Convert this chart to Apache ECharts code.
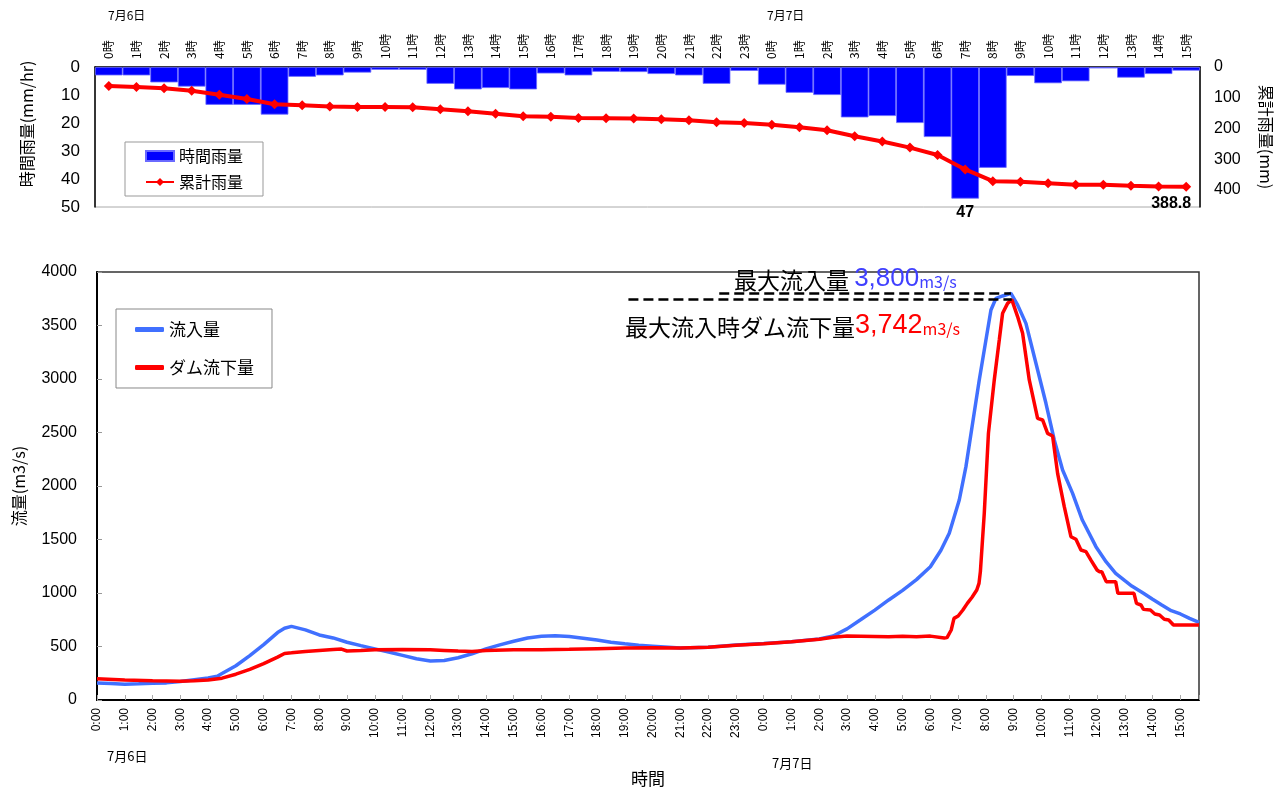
<!DOCTYPE html>
<html><head><meta charset="utf-8">
<script src="https://cdn.jsdelivr.net/npm/echarts@6/dist/echarts.min.js"></script>
<style>html,body{margin:0;padding:0;background:#fff}#c{width:1284px;height:794px}</style>
</head><body><div id="c"></div>
<script>
// ---- data ----
const rainHourLabels = ['0時','1時','2時','3時','4時','5時','6時','7時','8時','9時','10時','11時','12時','13時','14時','15時','16時','17時','18時','19時','20時','21時','22時','23時',
  '0時','1時','2時','3時','4時','5時','6時','7時','8時','9時','10時','11時','12時','13時','14時','15時'];
const hourlyRain = [3,3,5.5,7,13.5,13.5,17,3.5,3,2,1,1,6,8,7.5,8,2.3,3,1.7,1.8,2.5,3,6,1.4,
  6.3,9.2,10,18,17.5,20,25,47,36,3.2,5.8,5.1,0.5,3.8,2.5,1.3];
const cumulativeRain = [62,65,69,77,90,104,121,124,128,130,130,131,137,144,152,160,162,165.5,166.5,167.5,170,173,179.5,182,
  188,196,205.5,225,242,262,286,333,371,373,377.6,383,383,386,388,388.8];
const flowTickLabels = ['0:00','1:00','2:00','3:00','4:00','5:00','6:00','7:00','8:00','9:00','10:00','11:00','12:00','13:00','14:00','15:00','16:00','17:00','18:00','19:00','20:00','21:00','22:00','23:00',
  '0:00','1:00','2:00','3:00','4:00','5:00','6:00','7:00','8:00','9:00','10:00','11:00','12:00','13:00','14:00','15:00'];
// [hours since 7/6 0:00, m3/s]
const inflow = [[0,160],[0.5,154],[1,148],[1.5,152],[2,157],[2.5,160],[3,173],[3.5,190],[4,205],[4.33,222],[4.5,247],[5,320],[5.5,415],[6,518],[6.5,630],[6.75,670],[7,688],[7.5,655],[8,608],[8.5,580],[9,540],[9.5,508],[10,478],[10.5,448],[11,417],[11.5,386],[12,365],[12.5,370],[13,395],[13.5,432],[14,478],[14.5,515],[15,549],[15.5,580],[16,596],[16.5,600],[17,593],[17.5,577],[18,560],[18.5,540],[19,525],[19.5,512],[20,503],[21,485],[22,492],[23,514],[24,528],[25,545],[26,570],[26.5,598],[27,665],[27.5,752],[28,840],[28.5,935],[29,1025],[29.5,1125],[30,1245],[30.38,1400],[30.68,1558],[31.04,1869],[31.28,2181],[31.52,2586],[31.76,2991],[32,3364],[32.18,3645],[32.36,3754],[32.6,3776],[32.9,3800],[33.14,3692],[33.44,3520],[33.8,3147],[34.16,2773],[34.46,2430],[34.76,2150],[35.12,1931],[35.47,1682],[35.96,1433],[36.33,1290],[36.67,1184],[37,1115],[37.25,1065],[37.67,997],[38,941],[38.33,888],[38.67,835],[39,804],[39.33,763],[39.67,725]];
const outflow = [[0,198],[1,188],[2,180],[3,176],[3.5,179],[4,186],[4.5,204],[5,241],[5.5,287],[6,340],[6.5,401],[6.75,435],[7,441],[7.5,454],[8,463],[8.5,472],[8.8,476],[9,458],[9.5,462],[10,469],[11,472],[12,469],[12.5,463],[13,457],[13.5,454],[14,463],[15,469],[16,469],[17,474],[18,480],[19,485],[20,488],[21,487],[22,492],[23,511],[24,526],[25,545],[26,567],[26.5,586],[27,598],[27.5,596],[28,594],[28.5,592],[29,595],[29.5,590],[30,597],[30.5,580],[30.6,583],[30.75,654],[30.85,763],[31,785],[31.17,841],[31.33,903],[31.5,960],[31.67,1028],[31.75,1090],[31.8,1200],[31.94,1745],[32.09,2492],[32.3,2991],[32.48,3364],[32.6,3614],[32.78,3707],[32.93,3742],[33.14,3583],[33.32,3427],[33.56,2991],[33.86,2632],[34.04,2617],[34.22,2492],[34.4,2467],[34.58,2118],[34.82,1807],[35.06,1526],[35.24,1502],[35.42,1402],[35.6,1386],[35.78,1308],[36,1215],[36.08,1199],[36.17,1199],[36.33,1106],[36.67,1106],[36.75,997],[37.33,997],[37.42,903],[37.58,888],[37.67,847],[37.92,841],[38.08,804],[38.25,794],[38.42,754],[38.58,748],[38.75,701],[39.67,701]];
const maxInflow = 3800, maxInflowTime = 32.9;
const outflowAtMax = 3742, outflowAtMaxTime = 32.93;
const dashStartUpper = 22.4, dashStartLower = 19.13;
const flowEnd = 39.67;

// ---- chart ----
const JP = "'Noto Sans CJK JP', sans-serif";
const NUM = "'Liberation Sans', Arial, sans-serif";
const peakIdx = hourlyRain.indexOf(Math.max(...hourlyRain));
const lastIdx = cumulativeRain.length - 1;
const chart = echarts.init(document.getElementById('c'), null, {renderer: 'canvas'});

const option = {
  animation: false,
  backgroundColor: '#fff',
  grid: [
    {left: 95, right: 84, top: 67, height: 140, show: true, borderColor: '#aaa', borderWidth: 1},
    {left: 97, right: 85, top: 272, height: 428, show: true, borderColor: '#333', borderWidth: 1.5}
  ],
  xAxis: [
    {gridIndex: 0, type: 'category', position: 'top', data: rainHourLabels,
     axisLine: {lineStyle: {color: '#000', width: 1.5}},
     axisTick: {inside: true, length: 4, lineStyle: {color: '#333'}},
     axisLabel: {interval: 0, rotate: 90, fontSize: 12, color: '#000', fontFamily: JP, margin: 8},
     splitLine: {show: false}},
    {gridIndex: 1, type: 'value', min: 0, max: flowEnd, interval: 1,
     axisLine: {lineStyle: {color: '#000', width: 2}},
     axisTick: {inside: true, length: 5, lineStyle: {color: '#aaa'}},
     axisLabel: {rotate: 90, fontSize: 12, color: '#000', fontFamily: NUM, margin: 8,
       formatter: v => Number.isInteger(v) ? flowTickLabels[v] : ''},
     splitLine: {show: false},
     name: '時間', nameLocation: 'middle', nameGap: 70,
     nameTextStyle: {fontSize: 17, color: '#000', fontFamily: JP}}
  ],
  yAxis: [
    {gridIndex: 0, type: 'value', inverse: true, min: 0, max: 50, interval: 10,
     axisLine: {show: true, lineStyle: {color: '#000', width: 1.5}},
     axisTick: {show: false},
     axisLabel: {fontSize: 17, color: '#000', fontFamily: NUM, margin: 15},
     splitLine: {show: false},
     name: '時間雨量(mm/hr)', nameLocation: 'middle', nameGap: 60,
     nameTextStyle: {fontSize: 16, color: '#000', fontFamily: JP, padding: [0, 0, 0, 26]}},
    {gridIndex: 0, type: 'value', inverse: true, min: 0, max: 455, interval: 100, position: 'right',
     axisLine: {show: true, lineStyle: {color: '#000', width: 1.5}},
     axisTick: {inside: true, length: 5, lineStyle: {color: '#000'}},
     axisLabel: {fontSize: 16, color: '#000', fontFamily: NUM, margin: 14,
       formatter: v => (v % 100 === 0 ? String(v) : '')},
     splitLine: {show: false},
     name: '累計雨量(mm)', nameLocation: 'middle', nameGap: 58, nameRotate: -90,
     nameTextStyle: {fontSize: 16, color: '#000', fontFamily: JP}},
    {gridIndex: 1, type: 'value', min: 0, max: 4000, interval: 500,
     axisLine: {show: true, lineStyle: {color: '#000', width: 2}},
     axisTick: {show: true, inside: true, length: 5, lineStyle: {color: '#999'}},
     axisLabel: {fontSize: 16, color: '#000', fontFamily: NUM, margin: 20, formatter: v => String(v)},
     splitLine: {show: false},
     name: '流量(m3/s)', nameLocation: 'middle', nameGap: 70,
     nameTextStyle: {fontSize: 16, color: '#000', fontFamily: JP}}
  ],
  legend: [
    {orient: 'vertical', left: 125, top: 142, itemWidth: 28, itemHeight: 10, itemGap: 10,
     padding: [6, 20, 6, 20], borderColor: '#999', borderWidth: 1, backgroundColor: '#fff',
     textStyle: {fontSize: 16, color: '#000', fontFamily: JP},
     data: [{name: '時間雨量', icon: 'rect'}, {name: '累計雨量'}]},
    {orient: 'vertical', left: 116, top: 309, itemWidth: 29, itemHeight: 5, itemGap: 21,
     padding: [12, 18, 12, 19], borderColor: '#888', borderWidth: 1, backgroundColor: '#fff',
     textStyle: {fontSize: 17, color: '#000', fontFamily: JP},
     data: [{name: '流入量', icon: 'roundRect'}, {name: 'ダム流下量', icon: 'roundRect'}]}
  ],
  series: [
    {name: '時間雨量', type: 'bar', xAxisIndex: 0, yAxisIndex: 0, barCategoryGap: '0%',
     itemStyle: {color: '#0000ff', borderColor: '#6a6aff', borderWidth: 0.8},
     data: hourlyRain.map((v, i) => i === peakIdx ? {value: v, label: {show: true, position: 'bottom', distance: 6,
       fontSize: 16, fontWeight: 'bold', color: '#000', fontFamily: NUM}} : v)},
    {name: '累計雨量', type: 'line', xAxisIndex: 0, yAxisIndex: 1, symbol: 'diamond', symbolSize: 10,
     lineStyle: {color: '#ff0000', width: 4}, itemStyle: {color: '#ff0000'},
     data: cumulativeRain.map((v, i) => i === lastIdx ? {value: v, label: {show: true, position: 'bottom', distance: 4,
       offset: [-15, 0], fontSize: 16, fontWeight: 'bold', color: '#000', fontFamily: NUM}} : v)},
    {name: '流入量', type: 'line', xAxisIndex: 1, yAxisIndex: 2, symbol: 'none', z: 3,
     lineStyle: {color: '#4070ff', width: 3.5}, itemStyle: {color: '#4070ff'},
     data: inflow,
     markLine: {silent: true, symbol: 'none', label: {show: false},
       lineStyle: {color: '#000', width: 2.5, type: [10, 5]},
       data: [
         [{coord: [dashStartUpper, maxInflow]}, {coord: [maxInflowTime, maxInflow]}],
         [{coord: [dashStartLower, outflowAtMax]}, {coord: [outflowAtMaxTime, outflowAtMax]}]
       ]}},
    {name: 'ダム流下量', type: 'line', xAxisIndex: 1, yAxisIndex: 2, symbol: 'none', z: 4,
     lineStyle: {color: '#ff0000', width: 3.5}, itemStyle: {color: '#ff0000'},
     data: outflow}
  ],
  graphic: [
    {type: 'text', left: 108, top: 9, style: {text: '7月6日', fontSize: 12, fill: '#000', fontFamily: JP}},
    {type: 'text', left: 767, top: 9, style: {text: '7月7日', fontSize: 12, fill: '#000', fontFamily: JP}},
    {type: 'text', left: 107, top: 750, style: {text: '7月6日', fontSize: 13, fill: '#000', fontFamily: JP}},
    {type: 'text', left: 772, top: 757, style: {text: '7月7日', fontSize: 13, fill: '#000', fontFamily: JP}},
    {type: 'text', left: 734, top: 266, style: {
      text: '{a|最大流入量 }{b|' + maxInflow.toLocaleString('en-US') + '}{c|m3/s}',
      rich: {
        a: {fontSize: 23, fill: '#000', fontFamily: JP, verticalAlign: 'bottom'},
        b: {fontSize: 26, fill: '#4040ff', fontFamily: NUM, verticalAlign: 'bottom'},
        c: {fontSize: 16, fill: '#4040ff', fontFamily: JP, verticalAlign: 'bottom', padding: [0, 0, 2, 0]}
      }}},
    {type: 'text', left: 625, top: 312, style: {
      text: '{a|最大流入時ダム流下量}{b|' + outflowAtMax.toLocaleString('en-US') + '}{c|m3/s}',
      rich: {
        a: {fontSize: 23, fill: '#000', fontFamily: JP, verticalAlign: 'bottom'},
        b: {fontSize: 27, fill: '#ff0000', fontFamily: NUM, verticalAlign: 'bottom'},
        c: {fontSize: 16, fill: '#ff0000', fontFamily: JP, verticalAlign: 'bottom', padding: [0, 0, 2, 0]}
      }}}
  ]
};
chart.setOption(option);
</script>
</body></html>
